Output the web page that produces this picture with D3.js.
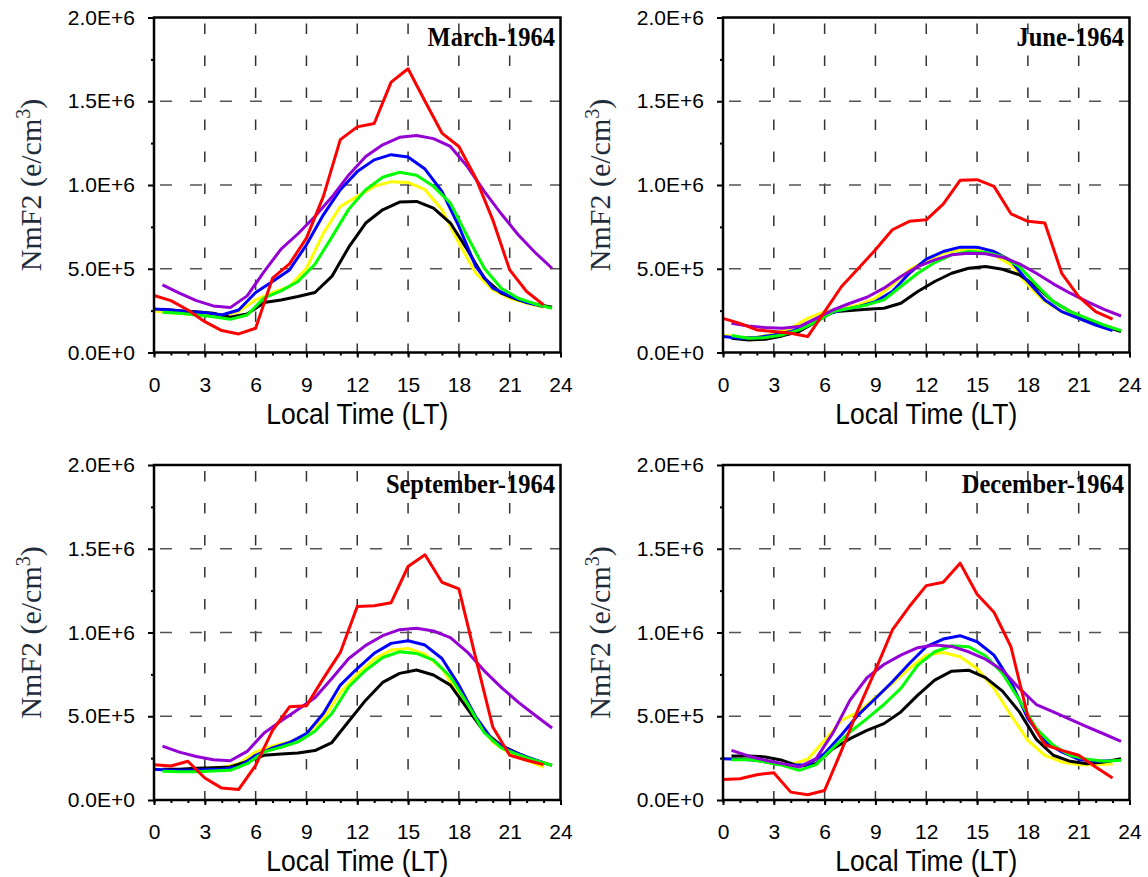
<!DOCTYPE html>
<html>
<head>
<meta charset="utf-8">
<script src="https://cdn.jsdelivr.net/npm/d3@7"></script>
<style>
  body { margin: 0; background: #fff; }
</style>
</head>
<body>
<script>
// NmF2 values are in units of 1E+5 e/cm3

// Hours where each kind of curve has its points
var obsHours = [0,1,2,3,4,5,6,7,8,9,10,11,12,13,14,15,16,17,18,19,20,21,22,23];
var modHours = [0.5,1.5,2.5,3.5,4.5,5.5,6.5,7.5,8.5,9.5,10.5,11.5,12.5,13.5,14.5,15.5,16.5,17.5,18.5,19.5,20.5,21.5,22.5,23.5];

var months = ["March-1964", "June-1964", "September-1964", "December-1964"];

var xTicks = [0, 3, 6, 9, 12, 15, 18, 21, 24];
var xGrid = [3, 6, 9, 12, 15, 18, 21];
var yTicks = [0, 5e5, 1e6, 1.5e6, 2e6];
var yMinor = [2.5e5, 7.5e5, 1.25e6, 1.75e6];
var yGrid = [5e5, 1e6, 1.5e6];

// March
var marRed    = [3.40,3.10,2.54,1.84,1.31,1.11,1.45,4.44,5.29,6.83,9.32,12.71,13.47,13.67,16.14,16.94,15.0,13.1,12.3,10.4,7.92,4.93,3.64,2.84];
var marBlue   = [2.60,2.54,2.44,2.38,2.24,2.54,3.58,4.24,4.93,6.43,8.22,9.72,10.8,11.5,11.81,11.67,10.95,9.62,7.53,5.13,3.84,3.38,2.98,2.74];
var marYellow = [2.48,2.38,2.30,2.24,2.18,2.44,3.14,3.58,3.94,5.03,7.13,8.72,9.32,9.92,10.2,10.15,9.72,8.52,6.53,4.73,3.74,3.24,2.94,2.70];
var marPurple = [4.04,3.54,3.10,2.78,2.68,3.38,4.83,6.17,7.09,8.12,9.28,10.6,11.7,12.4,12.85,12.95,12.77,12.3,11.1,9.62,8.28,7.03,5.97,5.03];
var marGreen  = [2.40,2.34,2.24,2.14,1.98,2.24,3.26,3.68,4.24,5.27,6.89,8.56,9.72,10.46,10.76,10.58,9.92,8.92,6.93,5.03,3.84,3.24,2.90,2.64];
var marBlack  = [2.58,2.50,2.44,2.34,2.10,2.30,2.98,3.14,3.34,3.58,4.54,6.29,7.73,8.52,8.98,9.02,8.62,7.73,6.13,4.44,3.54,3.14,2.90,2.70];

// June
var junRed    = [2.04,1.74,1.35,1.25,1.15,0.95,2.44,3.94,5.03,6.13,7.33,7.83,7.92,8.86,10.28,10.32,9.92,8.28,7.83,7.73,4.73,3.34,2.44,1.99];
var junBlue   = [0.95,0.85,0.89,1.05,1.25,1.64,2.24,2.54,2.74,3.04,3.64,4.73,5.57,6.03,6.29,6.29,6.03,5.49,4.24,3.14,2.44,2.04,1.64,1.31];
var junYellow = [1.05,0.89,0.91,1.11,1.45,2.04,2.44,2.60,2.84,3.24,4.04,4.93,5.49,5.93,6.13,6.09,5.83,5.23,4.04,3.04,2.44,2.04,1.64,1.35];
var junPurple = [1.74,1.58,1.49,1.45,1.55,2.04,2.54,2.94,3.30,3.84,4.54,5.13,5.53,5.83,5.93,5.89,5.69,5.29,4.73,4.10,3.54,3.04,2.58,2.18];
var junGreen  = [1.01,0.85,0.89,1.05,1.35,1.84,2.44,2.64,2.84,3.14,3.94,4.73,5.37,5.83,6.03,5.97,5.73,5.13,4.04,3.04,2.44,2.04,1.64,1.31];
var junBlack  = [0.85,0.75,0.79,0.99,1.25,1.84,2.44,2.50,2.58,2.64,2.94,3.64,4.24,4.73,5.03,5.13,4.97,4.64,3.94,3.04,2.44,1.99,1.58,1.25];

// September
var sepRed    = [2.11,2.03,2.31,1.31,0.71,0.63,2.07,4.16,5.56,5.62,7.26,8.81,11.55,11.6,11.78,13.94,14.64,13.0,12.6,8.45,4.36,2.67,2.37,2.11];
var sepBlue   = [1.83,1.77,1.77,1.81,1.83,1.97,2.67,3.11,3.43,3.96,5.16,6.86,7.85,8.76,9.35,9.51,9.25,8.45,6.86,4.96,3.56,2.97,2.57,2.23];
var sepYellow = [1.83,1.81,1.83,1.87,1.93,2.17,2.87,3.23,3.47,3.90,4.86,6.42,7.52,8.41,8.95,9.05,8.71,7.85,6.26,4.86,3.46,2.77,2.37,1.97];
var sepPurple = [3.22,2.86,2.60,2.40,2.34,2.90,4.00,4.72,5.40,6.10,7.26,8.45,9.23,9.81,10.17,10.25,10.09,9.69,8.83,7.71,6.72,5.84,5.06,4.30];
var sepGreen  = [1.71,1.69,1.69,1.73,1.77,2.17,2.87,3.15,3.47,4.10,5.16,6.76,7.75,8.51,8.85,8.75,8.35,7.36,5.76,4.02,3.11,2.71,2.37,2.07];
var sepBlack  = [1.83,1.83,1.89,1.93,1.97,2.31,2.67,2.75,2.81,2.95,3.43,4.70,5.96,7.02,7.56,7.76,7.46,6.86,5.46,4.06,3.26,2.77,2.37,2.07];

// December
var decRed    = [1.23,1.27,1.51,1.63,0.47,0.31,0.57,2.96,5.46,7.75,10.15,11.55,12.8,13.0,14.14,12.28,11.21,9.15,5.0,3.3,2.96,2.67,1.97,1.31];
var decBlue   = [2.47,2.43,2.37,2.17,2.07,2.11,2.77,3.90,5.10,6.06,7.06,8.15,9.15,9.61,9.81,9.45,8.65,7.06,4.86,3.50,2.87,2.43,2.31,2.35];
var decYellow = [2.47,2.47,2.37,2.17,2.11,2.43,3.56,4.76,5.26,6.12,6.96,7.85,8.65,8.81,8.55,7.85,6.66,5.06,3.56,2.67,2.27,2.11,2.11,2.17];
var decPurple = [2.96,2.63,2.37,2.17,1.97,2.47,4.02,5.96,7.30,8.09,8.65,9.09,9.25,9.17,8.85,8.41,7.75,6.66,5.70,5.26,4.82,4.36,3.94,3.50];
var decGreen  = [2.41,2.41,2.27,2.07,1.77,2.11,3.11,4.06,4.86,5.70,6.66,8.05,8.85,9.21,9.15,8.61,7.55,5.96,4.26,3.26,2.67,2.43,2.31,2.37];
var decBlack  = [2.63,2.63,2.57,2.37,2.01,2.17,3.06,3.66,4.16,4.56,5.26,6.26,7.16,7.69,7.75,7.31,6.50,5.26,3.62,2.67,2.31,2.17,2.27,2.47];

var panels = [
  {title: months[0], red: marRed, blue: marBlue, yellow: marYellow, purple: marPurple, green: marGreen, black: marBlack},
  {title: months[1], red: junRed, blue: junBlue, yellow: junYellow, purple: junPurple, green: junGreen, black: junBlack},
  {title: months[2], red: sepRed, blue: sepBlue, yellow: sepYellow, purple: sepPurple, green: sepGreen, black: sepBlack},
  {title: months[3], red: decRed, blue: decBlue, yellow: decYellow, purple: decPurple, green: decGreen, black: decBlack}
];

// drawing order, colour and hour grid of each curve
var series = [
  {key: "yellow", color: "#ffff00", hours: obsHours},
  {key: "black",  color: "#000000", hours: modHours},
  {key: "blue",   color: "#0000ff", hours: obsHours},
  {key: "green",  color: "#00ff00", hours: modHours},
  {key: "purple", color: "#9400d3", hours: modHours},
  {key: "red",    color: "#ff0000", hours: obsHours}
];

var W = 1148, H = 877,
    pw = 406.5, ph = 335;
var boxes = [[154, 17.5], [723, 17.5], [154, 465], [723, 465]];

var sans = "'Liberation Sans', Arial, sans-serif",
    serif = "'Liberation Serif', 'Times New Roman', serif";

var fmt = function(d) { return d3.format(".1e")(d).toUpperCase(); };

var svg = d3.select("body").append("svg")
    .attr("width", W)
    .attr("height", H)
    .style("display", "block");

var x = d3.scaleLinear().domain([0, 24]).range([0, pw]);
var y = d3.scaleLinear().domain([0, 2e6]).range([ph, 0]);

panels.forEach(function(p, i) {
  var g = svg.append("g")
      .attr("transform", "translate(" + boxes[i][0] + "," + boxes[i][1] + ")");

  // dashed grid
  g.selectAll(".vgrid").data(xGrid).enter().append("line")
    .attr("x1", function(d) { return x(d); })
    .attr("x2", function(d) { return x(d); })
    .attr("y1", 0).attr("y2", ph)
    .attr("stroke", "#333")
    .attr("stroke-width", 1.5)
    .attr("stroke-dasharray", "10.5 21.5")
    .attr("stroke-dashoffset", 26);

  g.selectAll(".hgrid").data(yGrid).enter().append("line")
    .attr("x1", 0).attr("x2", pw)
    .attr("y1", function(d) { return y(d); })
    .attr("y2", function(d) { return y(d); })
    .attr("stroke", "#555")
    .attr("stroke-width", 1.5)
    .attr("stroke-dasharray", "12 18")
    .attr("stroke-dashoffset", 24);

  // curves
  series.forEach(function(s) {
    var pts = p[s.key].map(function(v, j) { return [s.hours[j], v * 1e5]; });
    var line = d3.line()
        .x(function(d) { return x(d[0]); })
        .y(function(d) { return y(d[1]); });
    g.append("path")
      .attr("d", line(pts))
      .attr("fill", "none")
      .attr("stroke", s.color)
      .attr("stroke-width", 3)
      .attr("stroke-linejoin", "round");
  });

  // frame
  g.append("rect")
    .attr("width", pw).attr("height", ph)
    .attr("fill", "none")
    .attr("stroke", "#000")
    .attr("stroke-width", 2.5);

  // x axis
  var xMinorAxis = g.append("g")
      .attr("transform", "translate(0," + ph + ")")
      .call(d3.axisBottom(x).tickValues(d3.range(0, 25)).tickSize(3).tickFormat(""));
  var xAxis = g.append("g")
      .attr("transform", "translate(0," + ph + ")")
      .call(d3.axisBottom(x).tickValues(xTicks).tickSize(5).tickPadding(19.5));

  // y axis
  var yMinorAxis = g.append("g")
      .call(d3.axisLeft(y).tickValues(yMinor).tickSize(3).tickFormat(""));
  var yAxis = g.append("g")
      .call(d3.axisLeft(y).tickValues(yTicks).tickSize(6).tickPadding(13).tickFormat(fmt));

  [xMinorAxis, xAxis, yMinorAxis, yAxis].forEach(function(a) {
    a.select(".domain").remove();
    a.selectAll("line").attr("stroke", "#000").attr("stroke-width", 2);
    a.selectAll("text")
      .attr("fill", "#000")
      .style("font-family", sans)
      .style("font-size", "21px");
  });

  // axis titles
  g.append("text")
    .attr("transform", "translate(" + (pw / 2) + "," + (ph + 71) + ") scale(1,1.12)")
    .attr("text-anchor", "middle")
    .style("font-family", sans)
    .style("font-size", "26.5px")
    .attr("fill", "#000")
    .text("Local Time (LT)");

  var yl = g.append("text")
    .attr("transform", "translate(-113.5," + (ph / 2) + ") rotate(-90)")
    .attr("text-anchor", "middle")
    .style("font-family", serif)
    .style("font-size", "30px")
    .attr("fill", "#1f2d3a");
  yl.append("tspan").text("NmF2 (e/cm");
  yl.append("tspan").attr("dy", -11).style("font-size", "20px").text("3");
  yl.append("tspan").attr("dy", 11).text(")");

  // panel title
  g.append("text")
    .attr("transform", "translate(" + (pw - 5.5) + ",28) scale(1,1.15)")
    .attr("text-anchor", "end")
    .style("font-family", serif)
    .style("font-weight", "bold")
    .style("font-size", "24.5px")
    .attr("fill", "#000")
    .text(p.title);
});
</script>
</body>
</html>
